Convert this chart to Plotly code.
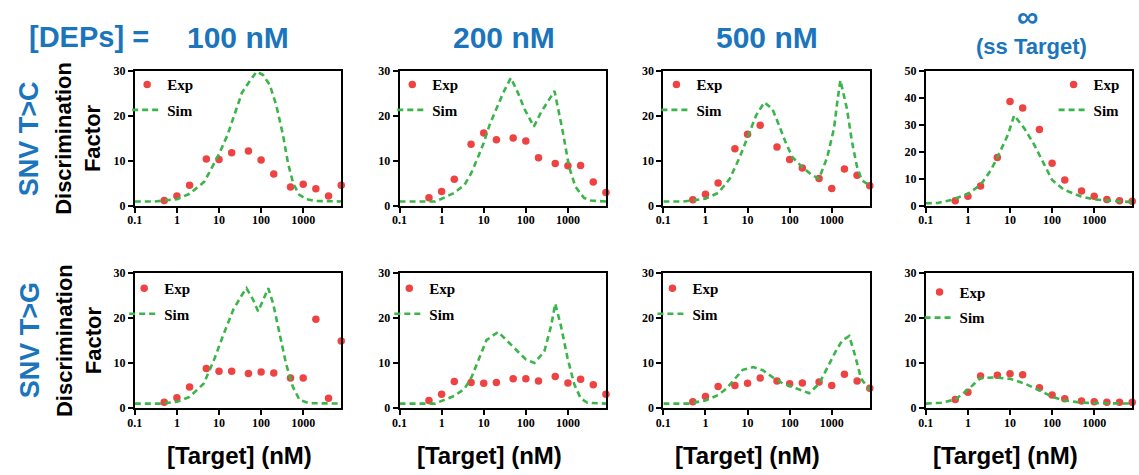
import plotly.graph_objects as go

W, H = 1139, 475

# Target concentrations (nM) of the measured points
conc = [0.5, 1, 2, 5, 10, 20, 50, 100, 200, 500, 1000, 2000, 4000, 8000]

# Experimental discrimination factors, SNV T>C
exp_tc_100 = [1.2, 2.2, 4.6, 10.4, 10.3, 11.8, 12.2, 10.2, 7.1, 4.2, 4.8, 3.8, 2.2, 4.6]
exp_tc_200 = [1.8, 3.2, 5.9, 13.7, 16.2, 14.7, 15.1, 14.4, 10.7, 9.4, 8.9, 9.0, 5.3, 3.0]
exp_tc_500 = [1.4, 2.6, 5.1, 12.7, 15.9, 17.9, 13.1, 10.3, 8.4, 6.1, 3.9, 8.2, 6.8, 4.5]
exp_tc_inf = [1.9, 3.6, 7.4, 17.9, 38.6, 36.2, 28.3, 15.8, 9.6, 5.5, 3.6, 2.4, 1.9, 1.7]

# Experimental discrimination factors, SNV T>G
exp_tg_100 = [1.3, 2.3, 4.7, 8.8, 8.2, 8.2, 7.7, 8.0, 7.8, 6.7, 6.7, 19.7, 2.2, 14.9]
exp_tg_200 = [1.7, 3.1, 5.9, 5.7, 5.5, 5.7, 6.5, 6.5, 6.0, 7.0, 5.6, 6.4, 5.2, 3.1]
exp_tg_500 = [1.4, 2.6, 4.8, 5.0, 5.5, 6.7, 6.0, 5.4, 5.6, 5.8, 5.0, 7.5, 6.0, 4.4]
exp_tg_inf = [1.9, 3.5, 7.1, 7.3, 7.6, 7.4, 4.5, 2.9, 2.1, 1.6, 1.4, 1.3, 1.3, 1.3]

# Simulated curves, SNV T>C
sim_tc_100_x = [0.1, 0.3, 1, 2, 4.5, 6, 10, 16, 24, 35, 50, 78, 110, 160, 230, 330, 440, 580, 800, 1200, 2000, 8000]
sim_tc_100_y = [1.0, 1.0, 1.5, 2.7, 5.4, 7.5, 11.5, 15.8, 20.8, 25.1, 27.3, 29.8, 29.1, 26.9, 22.3, 15.8, 9.3, 5.0, 2.5, 1.5, 1.1, 1.0]
sim_tc_200_x = [0.1, 0.3, 0.7, 1, 2, 3.5, 5, 7.3, 10, 13.8, 20, 29, 44, 65, 93, 155, 230, 335, 480, 740, 1070, 1500, 2400, 3500, 8000]
sim_tc_200_y = [1.0, 1.0, 1.0, 1.6, 2.9, 4.7, 7.2, 10.8, 14.0, 18.0, 21.5, 25.1, 28.4, 25.1, 21.5, 17.6, 20.8, 23.3, 25.5, 16.9, 8.6, 4.3, 1.8, 1.2, 1.0]
sim_tc_500_x = [0.1, 0.3, 1, 2, 3.1, 3.8, 6.5, 10.2, 16, 25, 39, 56, 81, 117, 200, 345, 500, 780, 1130, 1350, 1600, 2300, 3000, 4000, 5200, 8000]
sim_tc_500_y = [1.0, 1.0, 1.6, 2.9, 5.0, 6.1, 10.8, 15.4, 20.1, 23.0, 21.5, 17.9, 14.0, 10.8, 8.6, 6.8, 6.1, 10.8, 17.2, 23.0, 27.9, 21.5, 14.4, 8.6, 5.7, 4.5]
sim_tc_inf_x = [0.1, 0.19, 0.4, 1, 2, 3.5, 5, 8.9, 12.6, 21.8, 37.5, 64, 100, 190, 470, 1000, 2900, 8000]
sim_tc_inf_y = [1.0, 1.1, 2.2, 4.5, 7.8, 13.2, 17.9, 26.3, 33.5, 28.7, 22.7, 15.6, 9.6, 6.0, 3.6, 2.4, 1.8, 1.4]

# Simulated curves, SNV T>G
sim_tg_100_x = [0.1, 0.4, 1, 2, 4.3, 7.4, 12.6, 22, 35, 45, 65, 85, 112, 148, 192, 275, 395, 570, 820, 1400, 8000]
sim_tg_100_y = [1.0, 1.0, 1.4, 2.5, 5.4, 10.4, 16.2, 21.9, 25.1, 26.6, 24.0, 21.5, 24.0, 26.6, 23.3, 16.2, 9.7, 4.7, 1.8, 1.1, 1.0]
sim_tg_200_x = [0.1, 0.4, 0.7, 1, 2, 3.5, 5.1, 7.3, 11.6, 22, 38, 65, 100, 160, 275, 400, 500, 680, 980, 1400, 2000, 2900, 8000]
sim_tg_200_y = [1.0, 1.0, 1.0, 1.6, 2.7, 4.3, 6.8, 10.4, 15.1, 16.9, 14.7, 12.6, 10.8, 10.0, 12.6, 18.3, 23.2, 18.3, 11.1, 5.4, 2.2, 1.2, 1.0]
sim_tg_500_x = [0.1, 0.4, 1, 2, 3.1, 5.4, 7.7, 13.5, 23, 40, 68, 117, 205, 290, 500, 790, 1240, 1770, 2600, 3500, 5000, 8000]
sim_tg_500_y = [1.0, 1.0, 1.7, 2.9, 4.3, 6.8, 8.5, 9.1, 8.4, 6.8, 5.5, 4.7, 3.9, 3.3, 5.4, 9.0, 12.6, 15.0, 16.0, 12.0, 6.5, 4.0]
sim_tg_inf_x = [0.1, 0.23, 0.5, 1, 2, 4.3, 10, 21.5, 51, 100, 200, 500, 1500, 8000]
sim_tg_inf_y = [1.0, 1.2, 1.9, 4.1, 6.7, 6.8, 6.5, 5.5, 3.9, 2.5, 1.7, 1.2, 1.1, 1.0]

x_ticks = [0.1, 1, 10, 100, 1000]
x_tick_text = ["0.1", "1", "10", "100", "1000"]
dep_labels = ["100 nM", "200 nM", "500 nM"]
row_labels = ["SNV T>C", "SNV T>G"]

panels = [
    (exp_tc_100, sim_tc_100_x, sim_tc_100_y, 30),
    (exp_tc_200, sim_tc_200_x, sim_tc_200_y, 30),
    (exp_tc_500, sim_tc_500_x, sim_tc_500_y, 30),
    (exp_tc_inf, sim_tc_inf_x, sim_tc_inf_y, 50),
    (exp_tg_100, sim_tg_100_x, sim_tg_100_y, 30),
    (exp_tg_200, sim_tg_200_x, sim_tg_200_y, 30),
    (exp_tg_500, sim_tg_500_x, sim_tg_500_y, 30),
    (exp_tg_inf, sim_tg_inf_x, sim_tg_inf_y, 30),
]

RED = "#EE4343"
GREEN = "#3BB54A"
BLUE = "#1B75BC"
SERIF = "Liberation Serif"
SANS = "Liberation Sans"

# panel geometry in pixels (log x from 0.1 to ~8050 nM)
X_RANGE = [-1, 3.906]
col_left = [127.7, 394.3, 660.0, 924.3]
plot_w = 208.0
row_top = [65.7, 274.0]
row_bottom = [205.0, 413.3]
# legend anchor (left, top) in pixels for each panel
legend_pos = [(120, 63), (387, 63), (653, 63), (1053, 63),
              (117, 273), (384, 273), (649, 273), (918, 277)]


def px_x(v):
    return v / W


def px_y(v):
    return 1 - v / H


fig = go.Figure()
layout = dict(
    width=W, height=H,
    margin=dict(l=0, r=0, t=0, b=0),
    paper_bgcolor="white", plot_bgcolor="white",
    showlegend=True,
)

for i, (exp_vals, sx, sy, ymax) in enumerate(panels):
    r, c = divmod(i, 4)
    n = "" if i == 0 else str(i + 1)
    leg = "legend" if i == 0 else f"legend{i + 1}"
    fig.add_trace(go.Scatter(
        x=conc, y=exp_vals, mode="markers", name="Exp",
        marker=dict(color=RED, size=7.5),
        cliponaxis=False, xaxis="x" + n, yaxis="y" + n, legend=leg,
        legendgroup=f"exp{i}",
    ))
    fig.add_trace(go.Scatter(
        x=sx, y=sy, mode="lines", name="Sim",
        line=dict(color=GREEN, width=2.6, dash="6px,4px"),
        xaxis="x" + n, yaxis="y" + n, legend=leg,
        legendgroup=f"sim{i}",
    ))
    axis_common = dict(
        showline=True, linecolor="black", linewidth=2, mirror=True,
        ticks="outside", ticklen=5, tickwidth=2, tickcolor="black",
        showgrid=False, zeroline=False,
        tickfont=dict(family=SERIF, size=12, color="black", weight="bold"),
    )
    layout["xaxis" + n] = dict(
        axis_common, type="log", range=X_RANGE,
        domain=[px_x(col_left[c]), px_x(col_left[c] + plot_w)],
        anchor="y" + n, tickvals=x_ticks, ticktext=x_tick_text,
        ticklabelstandoff=-3,
    )
    layout["yaxis" + n] = dict(
        axis_common, range=[0, ymax],
        domain=[px_y(row_bottom[r]), px_y(row_top[r])],
        anchor="x" + n, tickvals=list(range(0, ymax + 1, 10)),
    )
    lx, ly = legend_pos[i]
    layout[leg] = dict(
        x=px_x(lx), y=px_y(ly), xanchor="left", yanchor="top",
        xref="paper", yref="paper",
        bgcolor="rgba(0,0,0,0)", borderwidth=0,
        font=dict(family=SERIF, size=15, color="black", weight="bold"),
        itemwidth=30, tracegroupgap=3, traceorder="grouped",
    )

annotations = []


def add_text(text, x, y, size, color, family=SANS, angle=0):
    annotations.append(dict(
        text=text, x=px_x(x), y=px_y(y), xref="paper", yref="paper",
        showarrow=False, xanchor="center", yanchor="middle",
        textangle=angle,
        font=dict(family=family, size=size, color=color, weight="bold"),
    ))


# column headers
add_text("[DEPs] =", 82, 31, 29, BLUE)
for label, cx in zip(dep_labels, [232, 500, 764]):
    add_text(label, cx, 31, 30, BLUE)
add_text("∞", 1027, 10, 30, BLUE)
add_text("(ss Target)", 1031, 41, 22, BLUE)

# row labels and y titles
for r, label in enumerate(row_labels):
    cy = (row_top[r] + row_bottom[r]) / 2
    add_text(label, 22, cy, 27, BLUE, angle=-90)
    add_text("Discrimination<br>Factor", 71, cy, 22, "black", angle=-90)

# x titles
for cx in [233, 485, 745, 1005]:
    add_text("[Target] (nM)", cx, 462, 24, "black")

layout["annotations"] = annotations
fig.update_layout(**layout)
fig.write_html("out.html")
